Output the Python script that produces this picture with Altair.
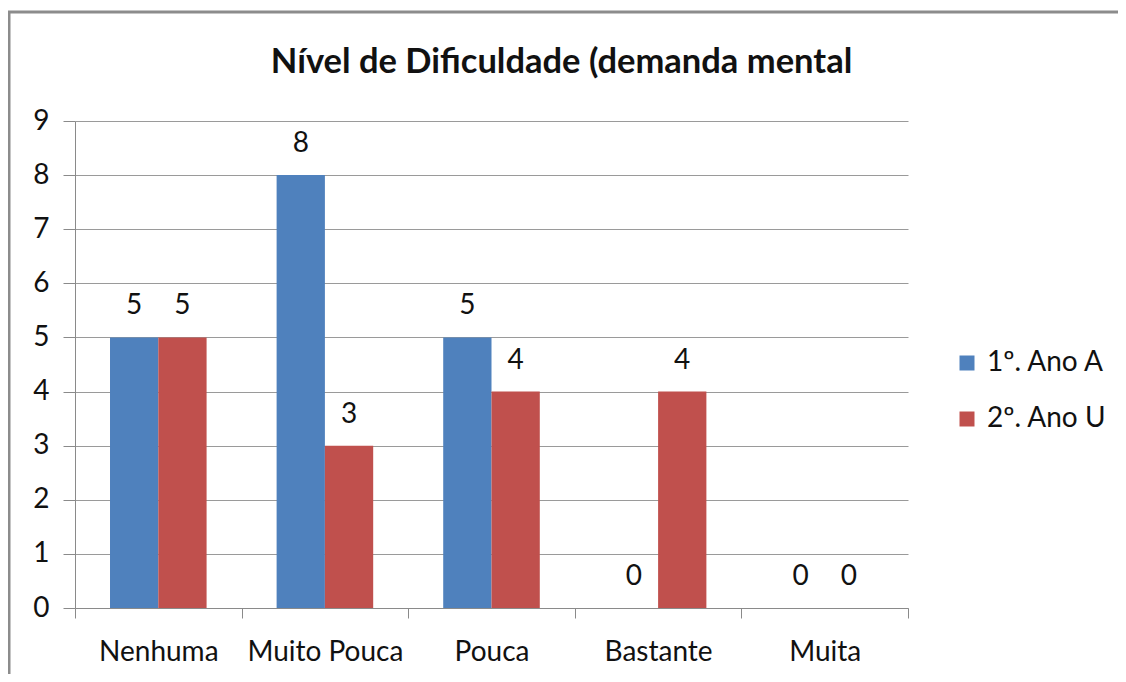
import altair as alt
import pandas as pd

categories = ["Nenhuma", "Muito Pouca", "Pouca", "Bastante", "Muita"]
series = ["1º. Ano A", "2º. Ano U"]
ano_a = [5, 8, 5, 0, 0]
ano_u = [5, 3, 4, 4, 0]
colors = ["#4F81BD", "#C0504D"]
y_ticks = [0, 1, 2, 3, 4, 5, 6, 7, 8, 9]
title_text = "Nível de Dificuldade (demanda mental"

rows = []
for c, a, u in zip(categories, ano_a, ano_u):
    rows.append({"cat": c, "serie": series[0], "valor": a})
    rows.append({"cat": c, "serie": series[1], "valor": u})
df = pd.DataFrame(rows)

FONT = "Lato"
AX = "#8a8a8a"
FS = 28

x_enc = alt.X(
    "cat:N",
    sort=categories,
    scale=alt.Scale(paddingInner=0, paddingOuter=0),
    axis=alt.Axis(
        title=None, labelAngle=0, tickBand="extent", labelFont=FONT,
        labelFontSize=FS, labelColor="#111111", labelPadding=20, tickSize=10,
        domainColor=AX, tickColor=AX, grid=False,
    ),
)
xoff = alt.XOffset("serie:N", sort=series, scale=alt.Scale(paddingInner=0, paddingOuter=0.725))
y_enc = alt.Y(
    "valor:Q",
    scale=alt.Scale(domain=[0, 9], nice=False),
    axis=alt.Axis(
        title=None, values=y_ticks, format="d", labelFont=FONT, labelFontSize=FS,
        labelColor="#111111", labelPadding=14, tickSize=12, tickColor=AX,
        domainColor=AX, gridColor="#9a9a9a", gridWidth=1,
    ),
)

bars = alt.Chart(df).mark_bar().encode(
    x=x_enc,
    xOffset=xoff,
    y=y_enc,
    color=alt.Color(
        "serie:N",
        sort=series,
        scale=alt.Scale(domain=series, range=colors),
        legend=alt.Legend(
            title=None, orient="none", legendX=878, legendY=228,
            symbolType="square", symbolSize=225, symbolStrokeWidth=0,
            labelFont=FONT, labelFontSize=FS, labelColor="#111111",
            labelOffset=6, rowPadding=28,
        ),
    ),
)

labels = alt.Chart(df).mark_text(
    font=FONT, fontSize=FS, color="#111111", baseline="middle", dy=-31
).encode(
    x=alt.X("cat:N", sort=categories),
    xOffset=xoff,
    y=alt.Y("valor:Q"),
    text=alt.Text("valor:Q"),
)

frame = alt.Chart(pd.DataFrame({"f": [0]})).mark_rect(
    filled=False, stroke="#8c8c8c", strokeWidth=3
).encode(
    x=alt.value(-66), x2=alt.value(1055), y=alt.value(-109), y2=alt.value(579)
)

chart = alt.layer(frame, bars, labels).properties(
    width=833,
    height=487,
    autosize=alt.AutoSizeParams(type="none"),
    padding={"left": 67, "top": 113, "right": 210, "bottom": 66},
    title=alt.TitleParams(
        title_text, font=FONT, fontSize=34.5, fontWeight="bold", color="#111111",
        anchor="middle", dx=70, offset=-70,
    ),
).configure_view(strokeWidth=0)

chart.save("out.html", embed_options={"renderer": "svg", "actions": False})
